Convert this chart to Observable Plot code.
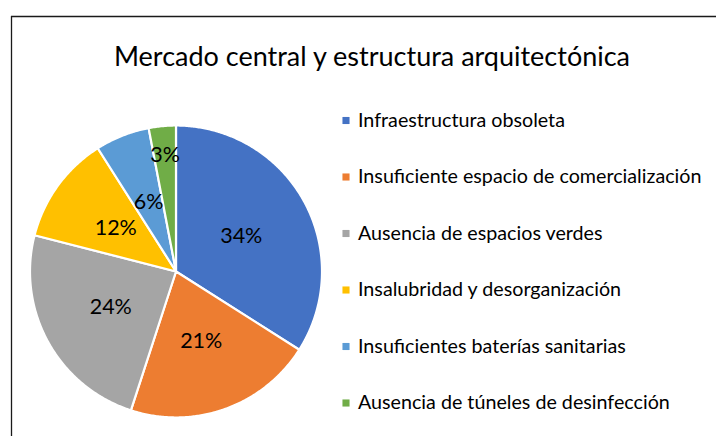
<!DOCTYPE html>
<html>
<head>
<meta charset="utf-8">
<script src="https://cdn.jsdelivr.net/npm/d3@7"></script>
<script src="https://cdn.jsdelivr.net/npm/@observablehq/plot@0.6"></script>
<style>
  html, body { margin: 0; padding: 0; background: #fff; }
  #chart { width: 716px; height: 436px; overflow: hidden; }
</style>
</head>
<body>
<div id="chart"></div>
<script>
const title = "Mercado central y estructura arquitectónica";
const categories = [
  "Infraestructura obsoleta",
  "Insuficiente espacio de comercialización",
  "Ausencia de espacios verdes",
  "Insalubridad y desorganización",
  "Insuficientes baterías sanitarias",
  "Ausencia de túneles de desinfección"
];
const values = [34, 21, 24, 12, 6, 3];
const colors = ["#4472C4", "#ED7D31", "#A5A5A5", "#FFC000", "#5B9BD5", "#70AD47"];

// layout constants (pixels)
const W = 716, H = 436;
const cx = 175.5, cy = 271, R = 146;

const pie = d3.pie().sort(null).value(d => d.value)(
  categories.map((c, i) => ({ category: c, value: values[i] }))
);

// slice outlines: center -> arc -> center
const slicePts = [];
for (const a of pie) {
  const n = Math.max(2, Math.ceil((a.endAngle - a.startAngle) / (Math.PI / 360)));
  slicePts.push({ category: a.data.category, x: cx, y: cy });
  for (let k = 0; k <= n; k++) {
    const t = a.startAngle + (a.endAngle - a.startAngle) * k / n;
    slicePts.push({ category: a.data.category, x: cx + R * Math.sin(t), y: cy - R * Math.cos(t) });
  }
  slicePts.push({ category: a.data.category, x: cx, y: cy });
}

const labels = pie.map(a => {
  const mid = (a.startAngle + a.endAngle) / 2;
  const rf = a.data.value < 5 ? 0.8 : 0.51;
  return { text: a.data.value + "%", x: cx + R * rf * Math.sin(mid), y: cy - R * rf * Math.cos(mid) };
});

const legendTop = 120, legendStep = 56.5;
const legend = categories.map((c, i) => ({ category: c, y: legendTop + i * legendStep }));

const plot = Plot.plot({
  width: W, height: H,
  margin: 0,
  x: { domain: [0, W], range: [0, W], axis: null },
  y: { domain: [0, H], range: [0, H], axis: null },
  color: { domain: categories, range: colors },
  style: { fontFamily: "Lato, 'Open Sans', sans-serif", background: "#fff" },
  marks: [
    Plot.ruleX([11], { y1: 16, y2: H + 5, stroke: "#1a1a1a", strokeWidth: 1.3 }),
    Plot.ruleY([16], { x1: 11, x2: W + 5, stroke: "#1a1a1a", strokeWidth: 1.3 }),
    Plot.line(slicePts, { x: "x", y: "y", z: "category", fill: "category", stroke: "white", strokeWidth: 2.2, strokeLinejoin: "round", curve: "linear" }),
    Plot.text(labels, { x: "x", y: "y", text: "text", fontSize: 21.5, fill: "#000" }),
    Plot.text([title], { x: 371.5, y: 57, text: d => d, fontSize: 27, fill: "#000" }),
    Plot.dot(legend, { x: 345.5, y: "y", symbol: "square", r: 4, fill: "category", stroke: null }),
    Plot.text(legend, { x: 357.5, y: "y", text: "category", textAnchor: "start", fontSize: 19.7, fill: "#000" })
  ]
});
document.getElementById("chart").appendChild(plot);
</script>
</body>
</html>
